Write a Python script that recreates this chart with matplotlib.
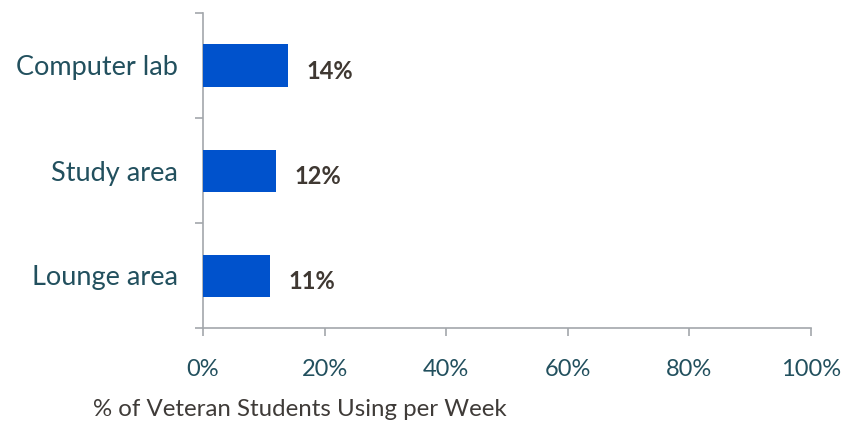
import matplotlib
matplotlib.use("Agg")
import matplotlib.pyplot as plt
import matplotlib.transforms as mtransforms
from matplotlib.ticker import FixedLocator, NullFormatter

categories = ["Lounge area", "Study area", "Computer lab"]
values = [11, 12, 14]
xticks = [0, 20, 40, 60, 80, 100]
xtick_labels = ["0%", "20%", "40%", "60%", "80%", "100%"]
xlabel = "% of Veteran Students Using per Week"

plt.rcParams["font.family"] = ["Lato", "DejaVu Sans"]

fig = plt.figure(figsize=(8.46, 4.24), dpi=100)
ax = fig.add_axes([203 / 846, 1 - 328 / 424, (811 - 203) / 846, (328 - 13) / 424])

axis_col = "#A3A7AB"
label_col = "#22505E"
bar_col = "#0052CC"

# small downward nudge for text, in points
nudge = mtransforms.ScaledTranslation(0, -3 / 72, fig.dpi_scale_trans)

ypos = list(range(len(categories)))
ax.barh(ypos, values, height=0.4, color=bar_col, zorder=3)
for y, v in zip(ypos, values):
    ax.text(v + 3, y, f"{v}%", va="center_baseline", ha="left", fontsize=17,
            fontweight="bold", color="#3F3832",
            transform=ax.transData + nudge)

ax.set_xlim(0, 100)
ax.set_ylim(-0.5, len(categories) - 0.5)

ax.set_xticks(xticks)
ax.set_xticklabels(xtick_labels, fontsize=17, color=label_col)
ax.set_yticks(ypos)
ax.set_yticklabels(categories, fontsize=19.5, color=label_col)
for lbl in ax.get_yticklabels():
    lbl.set_transform(lbl.get_transform() + nudge)
ax.tick_params(axis="y", length=0, pad=18)
ax.yaxis.set_minor_locator(FixedLocator([-0.5, 0.5, 1.5, 2.5]))
ax.yaxis.set_minor_formatter(NullFormatter())
ax.tick_params(axis="y", which="minor", length=6, width=1.2, color=axis_col)
ax.tick_params(axis="x", length=6, width=1.2, color=axis_col, pad=16)

for side in ("top", "right"):
    ax.spines[side].set_visible(False)
for side in ("left", "bottom"):
    ax.spines[side].set_color(axis_col)
    ax.spines[side].set_linewidth(1.2)

fig.text(93 / 846, 1 - 410 / 424, xlabel, fontsize=17.3, color="#3F3B38",
         ha="left", va="center")

fig.savefig("out.png", dpi=100)
